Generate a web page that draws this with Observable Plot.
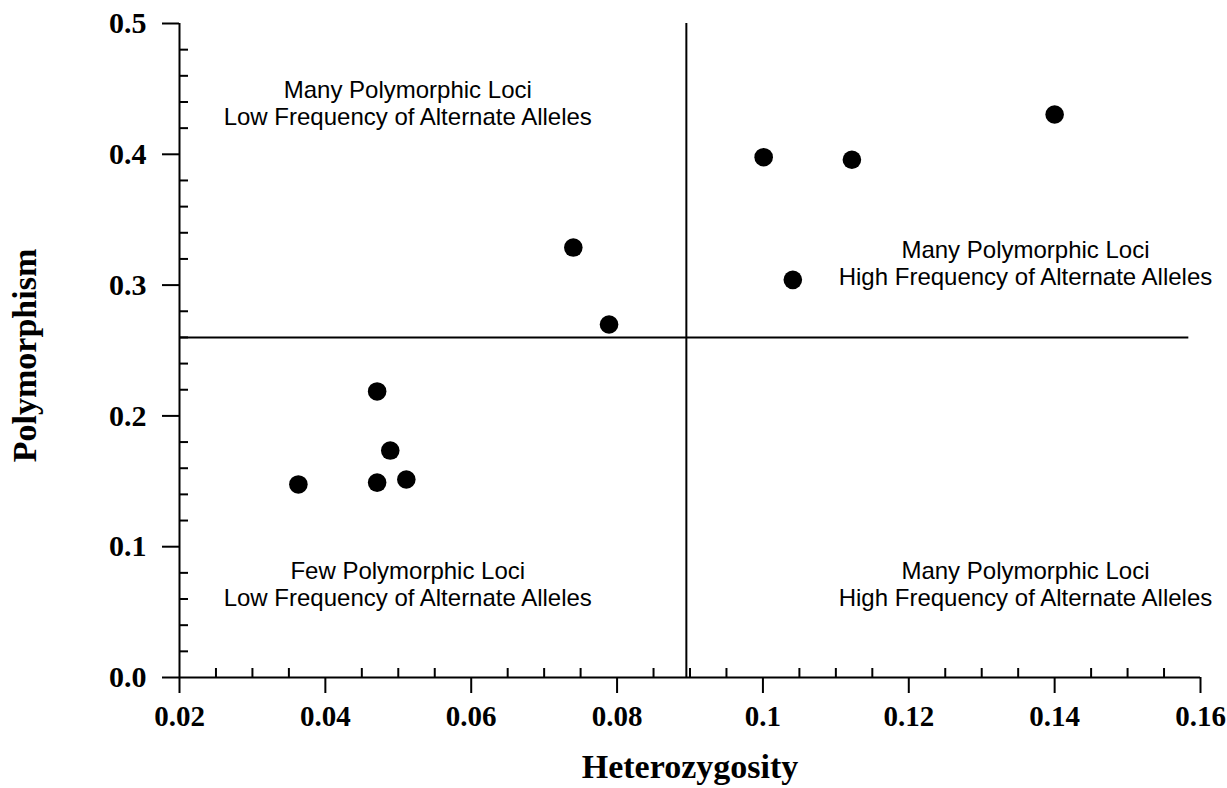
<!DOCTYPE html>
<html>
<head>
<meta charset="utf-8">
<script src="https://cdn.jsdelivr.net/npm/d3@7"></script>
<script src="https://cdn.jsdelivr.net/npm/@observablehq/plot@0.6"></script>
<style>
  html, body { margin: 0; padding: 0; background: #fff; }
  #chart svg { display: block; }
</style>
</head>
<body>
<div id="chart"></div>
<script>
// Data
const heterozygosity = [0.0363, 0.0471, 0.0489, 0.0471, 0.0511, 0.0740, 0.0789, 0.1001, 0.1122, 0.1400, 0.1041];
const polymorphism   = [0.1476, 0.2187, 0.1735, 0.1490, 0.1514, 0.3287, 0.2699, 0.3978, 0.3958, 0.4304, 0.3040];

const xMajorTicks = [0.02, 0.04, 0.06, 0.08, 0.10, 0.12, 0.14, 0.16];
const xTickLabels = ["0.02", "0.04", "0.06", "0.08", "0.1", "0.12", "0.14", "0.16"];
const xMinorTicks = [0.025, 0.03, 0.035, 0.045, 0.05, 0.055, 0.065, 0.07, 0.075, 0.085, 0.09, 0.095,
                     0.105, 0.11, 0.115, 0.125, 0.13, 0.135, 0.145, 0.15, 0.155];
const yMajorTicks = [0.0, 0.1, 0.2, 0.3, 0.4, 0.5];
const yTickLabels = ["0.0", "0.1", "0.2", "0.3", "0.4", "0.5"];
const yMinorTicks = [0.02, 0.04, 0.06, 0.08, 0.12, 0.14, 0.16, 0.18, 0.22, 0.24, 0.26, 0.28,
                     0.32, 0.34, 0.36, 0.38, 0.42, 0.44, 0.46, 0.48];

// Quadrant dividers
const hetThreshold = 0.0895;
const polyThreshold = 0.26;
const hLineExtent = [0.02, 0.1584];
const vLineExtent = [0.0, 0.5];

// Quadrant annotations (one row per line of text)
const noteText = [
  "Many Polymorphic Loci", "Low Frequency of Alternate Alleles",
  "Many Polymorphic Loci", "High Frequency of Alternate Alleles",
  "Few Polymorphic Loci", "Low Frequency of Alternate Alleles",
  "Many Polymorphic Loci", "High Frequency of Alternate Alleles"
];
const noteX = [0.0513, 0.0513, 0.1360, 0.1360, 0.0513, 0.0513, 0.1360, 0.1360];
const noteY = [0.4492, 0.4285, 0.3268, 0.3062, 0.0814, 0.0608, 0.0814, 0.0608];

const xTitle = "Heterozygosity";
const yTitle = "Polymorphism";

const points = heterozygosity.map((h, i) => ({h, p: polymorphism[i]}));
const notes = noteText.map((t, i) => ({t, x: noteX[i], y: noteY[i]}));

const serif = "'Liberation Serif', 'Times New Roman', serif";
const sans = "'Liberation Sans', Arial, sans-serif";

const chart = Plot.plot({
  width: 1227,
  height: 788,
  marginLeft: 179,
  marginRight: 27,
  marginTop: 23,
  marginBottom: 111,
  style: {background: "#fff", color: "#000"},
  x: {domain: [0.02, 0.16]},
  y: {domain: [0, 0.5]},
  marks: [
    // minor ticks (pointing inward)
    Plot.axisX(xMinorTicks, {tickSize: -9, text: null, strokeWidth: 2, label: null}),
    Plot.axisY(yMinorTicks, {tickSize: -9, text: null, strokeWidth: 2, label: null}),
    // major ticks (pointing outward) with labels
    Plot.axisX(xMajorTicks, {
      tickSize: 16, tickPadding: 12, strokeWidth: 2, label: null,
      tickFormat: (d) => xTickLabels[xMajorTicks.indexOf(d)],
      fontSize: 29, fontWeight: "bold", fontFamily: serif
    }),
    Plot.axisY(yMajorTicks, {
      tickSize: 17, tickPadding: 16, strokeWidth: 2, label: null,
      tickFormat: (d) => yTickLabels[yMajorTicks.indexOf(d)],
      fontSize: 30, fontWeight: "bold", fontFamily: serif
    }),
    // axis lines
    Plot.ruleY([0], {strokeWidth: 2}),
    Plot.ruleX([0.02], {strokeWidth: 2}),
    // quadrant dividers
    Plot.ruleY([polyThreshold], {x1: hLineExtent[0], x2: hLineExtent[1], strokeWidth: 2}),
    Plot.ruleX([hetThreshold], {y1: vLineExtent[0], y2: vLineExtent[1], strokeWidth: 2}),
    // points
    Plot.dot(points, {x: "h", y: "p", r: 9.3, fill: "#000", stroke: null}),
    // annotations
    Plot.text(notes, {x: "x", y: "y", text: "t", fontSize: 24, fontFamily: sans, fill: "#000", textAnchor: "middle"}),
    // axis titles
    Plot.text([xTitle], {frameAnchor: "bottom", dy: 90, textAnchor: "middle", lineAnchor: "middle",
      fontSize: 34, fontWeight: "bold", fontFamily: serif, fill: "#000"}),
    Plot.text([yTitle], {frameAnchor: "left", dx: -154, dy: 5, rotate: -90, textAnchor: "middle", lineAnchor: "middle",
      fontSize: 34, fontWeight: "bold", fontFamily: serif, fill: "#000"})
  ]
});

document.getElementById("chart").appendChild(chart);
</script>
</body>
</html>
